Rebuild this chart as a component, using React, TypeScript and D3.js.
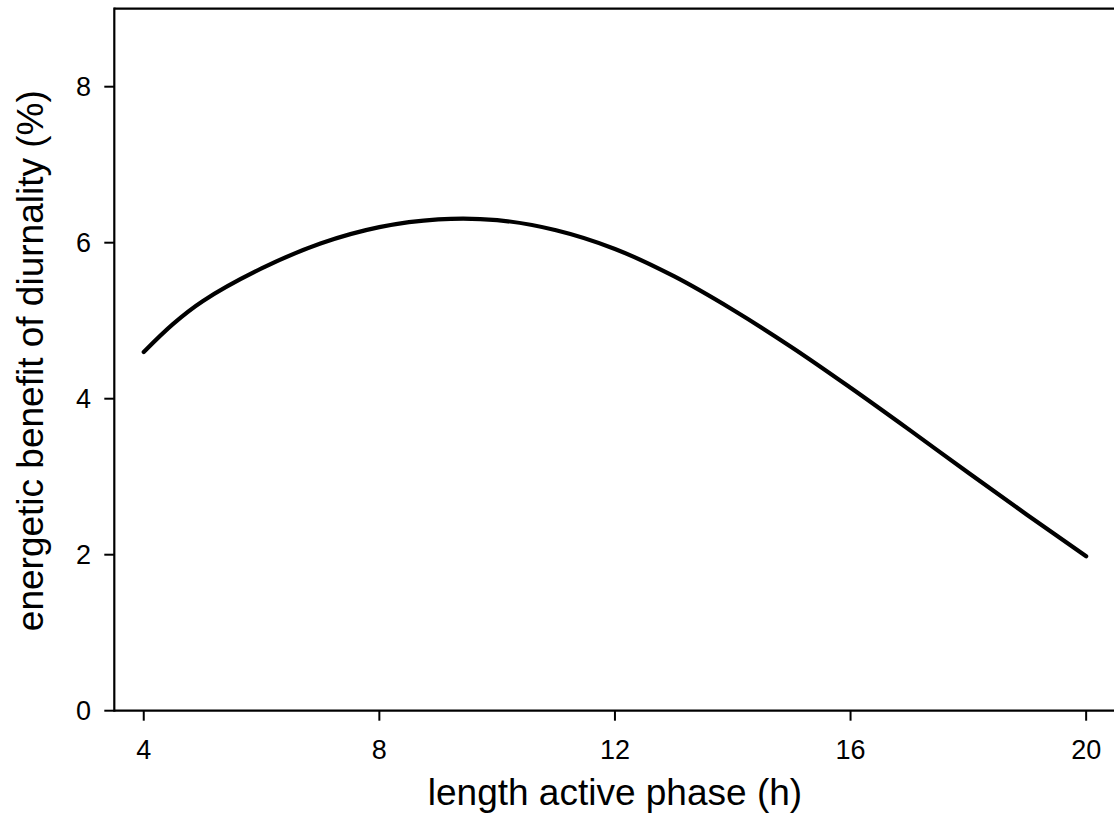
import React from "react";
import * as d3 from "d3";

// Hours of activity and the resulting energetic benefit (%)
const hours = [4, 4.5, 5, 6, 7, 8, 9, 10, 11, 12, 13, 14, 15, 16, 17, 18, 19, 20];
const benefit = [4.6, 4.96, 5.25, 5.67, 5.99, 6.2, 6.3, 6.29, 6.16, 5.92, 5.57, 5.14, 4.66, 4.14, 3.6, 3.05, 2.51, 1.98];
const xTicks = [4, 8, 12, 16, 20];
const yTicks = [0, 2, 4, 6, 8];

const W = 1114;
const H = 836;
const FONT = "'Liberation Sans', Arial, Helvetica, sans-serif";

export default function App() {
  const x = d3.scaleLinear().domain([3.5, 20.5]).range([114.3, 1115.6]);
  const y = d3.scaleLinear().domain([0, 9]).range([710.7, 8.7]);

  const pts = hours.map((h, i) => [h, benefit[i]] as [number, number]);
  const line = d3
    .line<[number, number]>()
    .x((d) => x(d[0]))
    .y((d) => y(d[1]))
    .curve(d3.curveCatmullRom.alpha(0.5));

  const [x0, x1] = x.range();
  const [yb, yt] = y.range();

  return (
    <svg
      width={W}
      height={H}
      style={{ position: "absolute", left: 0, top: 0, background: "#fff" }}
      fontFamily={FONT}
    >
      <rect x={0} y={0} width={W} height={H} fill="#fff" />
      {/* frame */}
      <g stroke="#000" strokeWidth={2.2} fill="none">
        <line x1={x0} y1={yt} x2={x1} y2={yt} />
        <line x1={x0} y1={yb} x2={x1} y2={yb} />
        <line x1={x0} y1={yt - 1.1} x2={x0} y2={yb + 1.1} />
      </g>
      {/* y axis ticks */}
      {yTicks.map((t) => (
        <g key={"y" + t}>
          <line x1={x0 - 10} x2={x0} y1={y(t)} y2={y(t)} stroke="#000" strokeWidth={2} />
          <text x={91} y={y(t)} dy="0.36em" textAnchor="end" fontSize={27} fill="#000">
            {t}
          </text>
        </g>
      ))}
      {/* x axis ticks */}
      {xTicks.map((t) => (
        <g key={"x" + t}>
          <line x1={x(t)} x2={x(t)} y1={yb} y2={yb + 10} stroke="#000" strokeWidth={2} />
          <text x={x(t)} y={759} textAnchor="middle" fontSize={27} fill="#000">
            {t}
          </text>
        </g>
      ))}
      {/* curve */}
      <path d={line(pts) || ""} fill="none" stroke="#000" strokeWidth={4.2} strokeLinecap="round" strokeLinejoin="round" />
      {/* axis titles */}
      <text x={(x(4) + x(20)) / 2} y={805} textAnchor="middle" fontSize={37} fill="#000">
        length active phase (h)
      </text>
      <text
        transform={`translate(43, ${(yt + yb) / 2 + 1}) rotate(-90)`}
        textAnchor="middle"
        fontSize={37}
        fill="#000"
      >
        energetic benefit of diurnality (%)
      </text>
    </svg>
  );
}
